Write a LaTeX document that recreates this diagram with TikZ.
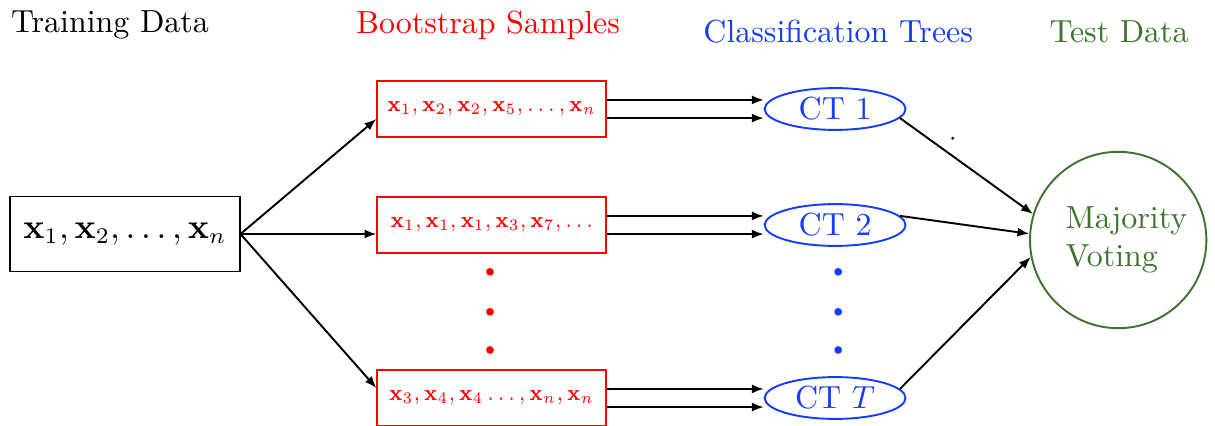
\documentclass[tikz,border=0pt]{standalone}
\usepackage{graphicx}
\usetikzlibrary{positioning,shapes.geometric,arrows.meta}

\definecolor{ctblue}{RGB}{20,60,250}
\definecolor{votegreen}{RGB}{60,115,45}

\newcommand{\samplelist}[1]{\scalebox{0.88}[1]{$#1$}}

\tikzset{
  databox/.style={draw, semithick, minimum width=2.52cm, minimum height=0.825cm, inner sep=2pt, font=\fontsize{10.6}{13}\selectfont},
  samplebox/.style={draw=red, semithick, text=red, minimum width=2.52cm, minimum height=0.616cm, inner sep=0pt, font=\fontsize{6.8}{8}\selectfont},
  treenode/.style={ellipse, draw=ctblue, semithick, text=ctblue, minimum width=1.55cm, minimum height=0.46cm, inner sep=0pt},
  votenode/.style={circle, draw=votegreen, semithick, text=votegreen, minimum size=1.94cm, inner sep=0pt, align=left},
  arr/.style={-{Latex[length=0.13cm,width=0.1cm]}, semithick},
  reddot/.style={circle, fill=red, inner sep=0pt, minimum size=0.085cm},
  bluedot/.style={circle, fill=ctblue, inner sep=0pt, minimum size=0.085cm}
}

\begin{document}
\begin{tikzpicture}
    % fix the page to the size of the reference
    \useasboundingbox (0,0) rectangle (13.365,-4.675);

    % column titles
    \node (t1) at (1.21,-0.275) {Training Data};
    \node[text=red] (t2) at (5.37,-0.275) {Bootstrap Samples};
    \node[text=ctblue] (t3) at (9.22,-0.35) {Classification Trees};
    \node[text=votegreen] (t4) at (12.31,-0.35) {Test Data};

    % training set
    \node[databox] (train) at (1.375,-2.574) {$\mathbf{x}_1, \mathbf{x}_2, \ldots, \mathbf{x}_n$};

    % bootstrap samples
    \node[samplebox] (b1) at (5.41,-1.199) {\samplelist{\mathbf{x}_1, \mathbf{x}_2, \mathbf{x}_2, \mathbf{x}_5, \ldots, \mathbf{x}_n}};
    \node[samplebox] (b2) at (5.41,-2.475) {\samplelist{\mathbf{x}_1, \mathbf{x}_1, \mathbf{x}_1, \mathbf{x}_3, \mathbf{x}_7, \ldots}};
    \node[samplebox] (b3) at (5.41,-4.378) {\samplelist{\mathbf{x}_3, \mathbf{x}_4, \mathbf{x}_4 \ldots, \mathbf{x}_n, \mathbf{x}_n}};

    % classification trees, to the right of the samples
    \node[treenode, right=1.72cm of b1] (ct1) {CT 1};
    \node[treenode, right=1.72cm of b2] (ct2) {CT 2};
    \node[treenode, right=1.72cm of b3] (ctT) {CT $T$};

    % majority vote
    \node[votenode] (vote) at (12.3,-2.64) {\hspace*{0.18cm}Majority\\\hspace*{0.18cm}Voting};

    % vertical dots between the rows
    \foreach \y [count=\i] in {-2.99,-3.43,-3.85} {
      \node[reddot] (rd\i) at (5.39,\y) {};
      \node[bluedot] (bd\i) at (9.22,\y) {};
    }
    \node[circle, fill=black, inner sep=0pt, minimum size=0.035cm] (sd) at (10.48,-1.52) {};

    % training data to bootstrap samples
    \draw[arr] (train.east) -- ([yshift=-0.11cm]b1.west);
    \draw[arr] (train.east) -- (train.east -| b2.west);
    \draw[arr] (train.east) -- ([yshift=0.11cm]b3.west);

    % samples to trees (double arrows)
    \foreach \b/\c in {b1/ct1, b2/ct2, b3/ctT} {
      \draw[arr] ([yshift=0.1cm]\b.east) -- ([yshift=0.1cm]\b.east -| \c.west);
      \draw[arr] ([yshift=-0.1cm]\b.east) -- ([yshift=-0.1cm]\b.east -| \c.west);
    }

    % trees to the vote
    \draw[arr] (ct1.-8) -- (vote.163);
    \draw[arr] (ct2.8) -- (vote.176);
    \draw[arr] (ctT.8) -- (vote.-169);
\end{tikzpicture}
\end{document}
